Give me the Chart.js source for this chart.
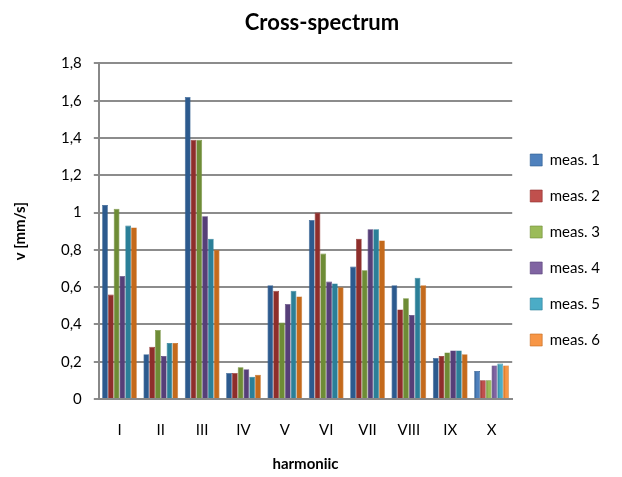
<!DOCTYPE html>
<html lang="en">
  <head>
    <meta charset="UTF-8" />
    <title>Cross-spectrum</title>
    <script src="https://cdn.jsdelivr.net/npm/chart.js@4.4.0/dist/chart.umd.min.js"></script>
    <style>
      html, body { margin: 0; padding: 0; background: #fff; }
      #wrap { width: 622px; height: 477px; }
    </style>
  </head>
  <body>
    <div id="wrap">
      <canvas id="spectrum-chart" width="622" height="477"></canvas>
    </div>

    <script>
      // harmonics
      const harmonics = ['I', 'II', 'III', 'IV', 'V', 'VI', 'VII', 'VIII', 'IX', 'X'];

      // v [mm/s] per measurement
      const meas1 = [1.04, 0.24, 1.62, 0.14, 0.61, 0.96, 0.71, 0.61, 0.22, 0.15];
      const meas2 = [0.56, 0.28, 1.39, 0.14, 0.58, 1.00, 0.86, 0.48, 0.23, 0.10];
      const meas3 = [1.02, 0.37, 1.39, 0.17, 0.41, 0.78, 0.69, 0.54, 0.25, 0.10];
      const meas4 = [0.66, 0.23, 0.98, 0.16, 0.51, 0.63, 0.91, 0.45, 0.26, 0.18];
      const meas5 = [0.93, 0.30, 0.86, 0.12, 0.58, 0.62, 0.91, 0.65, 0.26, 0.19];
      const meas6 = [0.92, 0.30, 0.80, 0.13, 0.55, 0.60, 0.85, 0.61, 0.24, 0.18];

      const yTicks = [0, 0.2, 0.4, 0.6, 0.8, 1, 1.2, 1.4, 1.6, 1.8];

      const colors = ['#4F81BD', '#C0504D', '#9BBB59', '#8064A2', '#4BACC6', '#F79646'];
      const edges  = ['#2C5A8E', '#8E2E2B', '#6E8C36', '#563F78', '#2B7F98', '#C46A1C'];

      const series = [meas1, meas2, meas3, meas4, meas5, meas6];

      // 막대에 가로 그라데이션 입히기
      const barShading = {
        id: 'barShading',
        beforeDatasetsDraw(chart) {
          const ctx = chart.ctx;
          chart.data.datasets.forEach((ds, i) => {
            const meta = chart.getDatasetMeta(i);
            meta.data.forEach((bar) => {
              const half = bar.width / 2;
              const g = ctx.createLinearGradient(bar.x - half, 0, bar.x + half, 0);
              g.addColorStop(0, edges[i]);
              g.addColorStop(0.45, colors[i]);
              g.addColorStop(1, colors[i]);
              bar.options.backgroundColor = g;
            });
          });
        },
      };

      // 제목, 범례 위치 살짝 옮기기
      const nudge = {
        id: 'nudge',
        afterLayout(chart) {
          const t = chart.titleBlock;
          t.left += 12;
          t.right += 12;
          const l = chart.legend;
          l.top += 9;
          l.bottom += 9;
          l.left -= 3;
          l.right -= 3;
        },
      };

      const fontFamily = 'Lato, "Open Sans", sans-serif';

      new Chart(document.getElementById('spectrum-chart'), {
        type: 'bar',
        data: {
          labels: harmonics,
          datasets: series.map((values, i) => ({
            label: 'meas. ' + (i + 1),
            data: values,
            backgroundColor: colors[i],
            borderColor: edges[i],
            borderWidth: 0.6,
            barPercentage: 1,
            categoryPercentage: 0.84,
          })),
        },
        options: {
          responsive: false,
          animation: false,
          layout: { padding: { left: 7, right: 9, top: 5, bottom: 0 } },
          plugins: {
            title: {
              display: true,
              text: 'Cross-spectrum',
              color: '#000',
              font: { family: fontFamily, size: 22, weight: 'bold' },
              padding: { top: 5, bottom: 27 },
            },
            legend: {
              position: 'right',
              align: 'center',
              labels: {
                boxWidth: 12,
                boxHeight: 12,
                padding: 21,
                color: '#000',
                font: { family: fontFamily, size: 15 },
              },
            },
            tooltip: { enabled: false },
          },
          scales: {
            x: {
              grid: { display: false },
              border: { color: '#888', width: 2 },
              ticks: { color: '#000', font: { family: fontFamily, size: 15 }, padding: 14 },
              title: {
                display: true,
                text: 'harmoniic',
                color: '#000',
                font: { family: fontFamily, size: 15, weight: 'bold' },
                padding: { top: 2, bottom: 4 },
              },
            },
            y: {
              min: 0,
              max: 1.8,
              afterBuildTicks: (axis) => {
                axis.ticks = yTicks.map((v) => ({ value: v }));
              },
              grid: { color: '#8c8c8c', lineWidth: 2, tickLength: 5 },
              border: { color: '#888', width: 2 },
              ticks: {
                color: '#000',
                font: { family: fontFamily, size: 15 },
                padding: 12,
                callback: (v) => String(Number(v.toFixed(1))).replace('.', ','),
              },
              title: {
                display: true,
                text: 'v [mm/s]',
                color: '#000',
                font: { family: fontFamily, size: 15, weight: 'bold' },
                padding: { bottom: 20 },
              },
            },
          },
        },
        plugins: [barShading, nudge],
      });
    </script>
  </body>
</html>
